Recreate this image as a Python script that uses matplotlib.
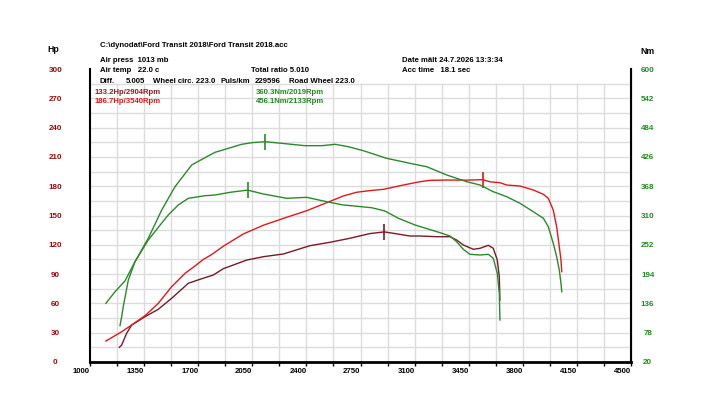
import matplotlib
matplotlib.use("Agg")
import matplotlib.pyplot as plt
import numpy as np

# ---------------- data ----------------
# Run 1 (186.7 Hp / 456.1 Nm)
rpm_hp1 = [1103, 1205, 1270, 1356, 1442, 1528, 1615, 1679, 1733, 1787, 1862, 1992, 2121,
           2273, 2402, 2531, 2639, 2725, 2811, 2898, 3027, 3135, 3200, 3308, 3437, 3540,
           3588, 3652, 3696, 3782, 3868, 3933, 3965, 3997, 4019, 4036, 4047, 4052]
hp1 = [21.5, 31.0, 37.9, 47.4, 60.1, 77.1, 90.8, 98.3, 105.0, 110.0, 118.5, 131.1, 140.0,
       148.2, 154.9, 163.1, 170.0, 173.8, 175.5, 176.8, 181.2, 184.6, 186.0, 186.3, 186.2, 186.7,
       184.5, 183.6, 181.2, 180.2, 176.1, 171.7, 167.6, 155.6, 138.5, 118.1, 104.4, 92.5]

rpm_tq1 = [1103, 1162, 1226, 1291, 1377, 1464, 1550, 1658, 1765, 1809, 1895, 1981, 2046, 2133,
           2240, 2391, 2499, 2585, 2671, 2768, 2919, 3092, 3178, 3308, 3437, 3523, 3609, 3696,
           3782, 3868, 3933, 3965, 3997, 4019, 4036, 4047, 4052]
tq1 = [136.2, 159.2, 180.3, 218.5, 264.9, 320.9, 367.0, 410.0, 428.0, 435.1, 443.0, 450.9, 454.1, 456.1,
       452.9, 448.2, 448.2, 450.9, 446.2, 438.3, 423.2, 411.9, 406.6, 390.2, 376.9, 370.4, 357.1, 347.2,
       334.1, 317.5, 304.5, 287.8, 255.0, 228.5, 202.1, 175.8, 159.2]

# Run 2 (133.2 Hp / 360.3 Nm)
rpm_hp2 = [1190, 1205, 1237, 1270, 1356, 1442, 1528, 1636, 1712, 1798, 1862, 1927, 2014, 2121,
           2251, 2423, 2553, 2682, 2811, 2904, 2962, 3070, 3135, 3243, 3329, 3372, 3415, 3480,
           3523, 3577, 3609, 3635, 3648, 3652]
hp2 = [15.0, 17.4, 29.4, 37.9, 46.4, 54.0, 65.2, 80.6, 84.7, 89.1, 95.5, 99.3, 104.4, 107.8,
       110.6, 119.1, 122.6, 126.7, 131.5, 133.2, 131.8, 129.0, 129.0, 128.3, 128.3, 124.9, 119.8, 115.4,
       116.4, 119.5, 116.4, 104.4, 87.3, 63.5]

rpm_tq2 = [1194, 1205, 1215, 1248, 1291, 1377, 1442, 1506, 1571, 1636, 1744, 1809, 1906, 2019,
           2121, 2273, 2402, 2531, 2639, 2714, 2822, 2908, 2995, 3103, 3264, 3329, 3372, 3415,
           3458, 3523, 3577, 3609, 3635, 3648, 3652]
tq2 = [91.9, 109.7, 129.5, 182.3, 218.5, 261.5, 286.6, 311.0, 330.8, 344.0, 349.2, 350.6, 355.9, 360.3,
       352.6, 344.0, 346.0, 337.3, 330.8, 328.7, 325.4, 318.9, 304.5, 291.2, 276.0, 269.4, 258.1, 243.1,
       233.2, 231.8, 233.2, 225.3, 195.6, 156.0, 103.1]

# peak markers
peak_hp1 = (3540, 186.7)
peak_hp2 = (2904, 133.2)
peak_tq1 = (2133, 456.1)
peak_tq2 = (2019, 360.3)

x_ticks = [1000, 1350, 1700, 2050, 2400, 2750, 3100, 3450, 3800, 4150, 4500]
hp_ticks = [0, 30, 60, 90, 120, 150, 180, 210, 240, 270, 300]
nm_ticks = [20, 78, 136, 194, 252, 310, 368, 426, 484, 542, 600]

header_lines = [
    ("C:\\dynodat\\Ford Transit 2018\\Ford Transit 2018.acc", 100, 45.7),
    ("Air press  1013 mb", 100, 60.7),
    ("Air temp   22.0 c", 100, 71.0),
    ("Total ratio 5.010", 251, 71.0),
    ("Diff.", 100, 81.7),
    ("5.005", 125.3, 81.7),
    ("Wheel circ. 223.0", 152.7, 81.7),
    ("Puls/km", 220.7, 81.7),
    ("229596", 255, 81.7),
    ("Road Wheel 223.0", 288.7, 81.7),
    ("Date mält 24.7.2026 13:3:34", 401.7, 60.7),
    ("Acc time   18.1 sec", 401.7, 71.0),
]

# ---------------- style ----------------
RED = "#e0181c"
MAROON = "#7a1a24"
GREEN = "#2a8a2a"
LBL_RED = "#9a0a0a"
LBL_GREEN = "#1e8a1e"
FONT = "Liberation Sans"

W, H = 720, 409
fig = plt.figure(figsize=(7.2, 4.09), dpi=100)
x0, x1, y0, y1 = 90, 631, 362, 69
ax = fig.add_axes([x0 / W, 1 - y0 / H, (x1 - x0) / W, (y0 - y1) / H])
ax2 = ax.twinx()

ax.set_xlim(1000, 4500)
ax.set_ylim(0, 300)
ax2.set_ylim(20, 600)

# grid
for r in np.arange(1175, 4500, 175):
    ax.plot([r, r], [0, 285], color="#dcdcdc", lw=1.0, zorder=0)
for h in np.arange(15, 300, 15):
    ax.plot([1000, 4500], [h, h], color="#dcdcdc", lw=1.0, zorder=0)

# curves
lw = 1.0
ax.plot(rpm_hp2, hp2, color=MAROON, lw=lw, zorder=3)
ax.plot(rpm_hp1, hp1, color=RED, lw=lw, zorder=3)
ax2.plot(rpm_tq1, tq1, color=GREEN, lw=lw, zorder=3)
ax2.plot(rpm_tq2, tq2, color=GREEN, lw=lw, zorder=3)

ax.plot(*peak_hp1, marker="|", ms=11, mew=1.2, color=RED, zorder=4)
ax.plot(*peak_hp2, marker="|", ms=11, mew=1.2, color=MAROON, zorder=4)
ax2.plot(*peak_tq1, marker="|", ms=11, mew=1.2, color=GREEN, zorder=4)
ax2.plot(*peak_tq2, marker="|", ms=11, mew=1.2, color=GREEN, zorder=4)

# spines
for a in (ax, ax2):
    a.spines["top"].set_visible(False)
ax.spines["left"].set_linewidth(1.5)
ax.spines["bottom"].set_linewidth(2.0)
ax2.spines["right"].set_linewidth(1.5)
ax2.spines["left"].set_visible(False)
ax2.spines["bottom"].set_visible(False)

# x ticks
ax.set_xticks(x_ticks)
ax.set_xticklabels([str(v) for v in x_ticks], fontfamily=FONT, fontweight="bold",
                   fontsize=5.6, ha="right")
ax.set_xticks(np.arange(1175, 4500, 350), minor=True)
ax.tick_params(axis="x", which="both", direction="out", length=3, width=1, pad=1.5)

# left y ticks
ax.set_yticks(hp_ticks)
ax.set_yticklabels([str(v) for v in hp_ticks], fontfamily=FONT, fontweight="bold",
                   fontsize=5.8, color=LBL_RED, ha="center")
ax.tick_params(axis="y", length=0, pad=25)

# right y ticks
ax2.set_yticks(nm_ticks)
ax2.set_yticklabels([str(v) for v in nm_ticks], fontfamily=FONT, fontweight="bold",
                    fontsize=5.8, color=LBL_GREEN, ha="center")
ax2.tick_params(axis="y", length=0, pad=12)


def ftext(s, x, y, color="black", size=5.6, ha="left"):
    fig.text(x / W, 1 - y / H, s, color=color, fontsize=size, fontfamily=FONT,
             fontweight="bold", ha=ha, va="center")


for s, x, y in header_lines:
    ftext(s, x, y)

ftext("Hp", 53.5, 50, size=6.2, ha="center")
ftext("Nm", 647, 52, size=6.2, ha="center")

ftext(f"{peak_hp2[1]}Hp/{peak_hp2[0]}Rpm", 95, 92.7, color="#8c1c26")
ftext(f"{peak_hp1[1]}Hp/{peak_hp1[0]}Rpm", 95, 101.7, color=RED)
ftext(f"{peak_tq2[1]}Nm/{peak_tq2[0]}Rpm", 256, 92.7, color=LBL_GREEN)
ftext(f"{peak_tq1[1]}Nm/{peak_tq1[0]}Rpm", 256, 101.7, color=LBL_GREEN)

fig.savefig("out.png", dpi=100)
